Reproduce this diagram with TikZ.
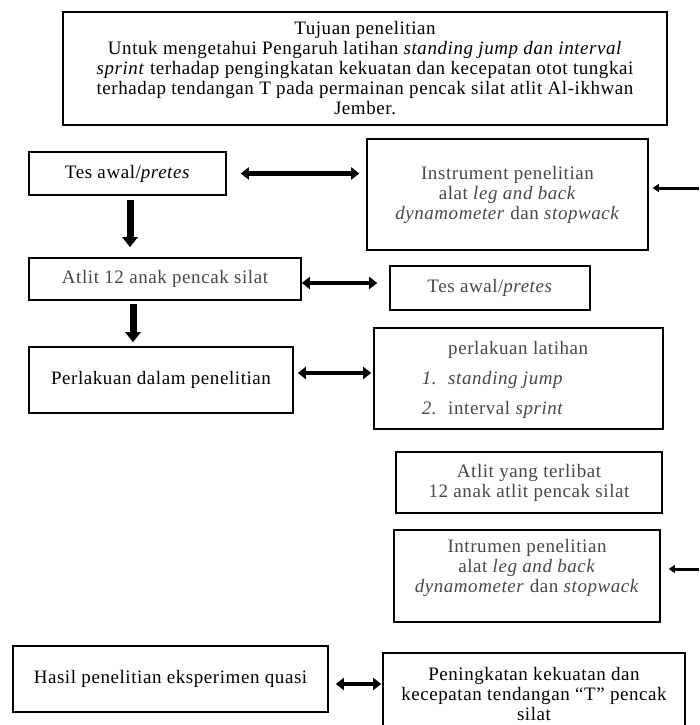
\documentclass[tikz,border=0pt]{standalone}
\usepackage{fontspec}
\setmainfont{Liberation Serif}[LetterSpace=3]
\usetikzlibrary{arrows.meta,calc}

\begin{document}
\begin{tikzpicture}[x=1pt,y=-1pt]
    \tikzstyle{box}=[draw,rectangle,line width=1.6pt,align=center,inner sep=0,font=\fontsize{19}{20}\selectfont]
    \tikzstyle{soft}=[text=black!72]
    \tikzstyle{dbl}=[line width=4.5pt,<->,>={Triangle[width=12pt,length=8pt]}]
    \tikzstyle{drop}=[line width=7pt,->,>={Triangle[width=15pt,length=10pt]}]
    \tikzstyle{feed}=[line width=3pt,->,>={Triangle[width=8pt,length=6pt]}]
    \useasboundingbox (0,0) rectangle (699,725);
    {
        \node[box,minimum width=604,minimum height=113] (tujuan) at (365,68.5) {Tujuan penelitian\\
            Untuk mengetahui Pengaruh latihan \textit{standing jump dan interval}\\
            \textit{sprint} terhadap pengingkatan kekuatan dan kecepatan otot tungkai\\
            terhadap tendangan T pada permainan pencak silat atlit Al-ikhwan\\
            Jember.};

        \node[box,minimum width=197,minimum height=43] (tes1) at (127.5,173.5) {Tes awal/\textit{pretes}};
        \node[box,soft,minimum width=281,minimum height=111] (instr1) at (507.5,194.5) {Instrument penelitian\\
            alat \textit{leg and back}\\
            \textit{dynamometer} dan \textit{stopwack}};
        \node[box,soft,minimum width=272,minimum height=42] (atlit1) at (165,279) {Atlit 12 anak pencak silat};
        \node[box,soft,minimum width=200,minimum height=44] (tes2) at (490,288) {Tes awal/\textit{pretes}};
        \node[box,minimum width=264,minimum height=66] (perl) at (161,380) {Perlakuan dalam penelitian};
        \node[box,soft,minimum width=289,minimum height=101] (latihan) at (518.5,378.5) {\renewcommand{\arraystretch}{1.5}%
            \begin{tabular}{@{}l@{\hspace{11pt}}l@{}}
                & perlakuan latihan\\
                \textit{1.} & \textit{standing jump}\\
                \textit{2.} & interval \textit{sprint}
            \end{tabular}\hspace{27pt}};
        \node[box,soft,minimum width=266,minimum height=61] (atlit2) at (529,482.5) {Atlit yang terlibat\\
            12 anak atlit pencak silat};
        \node[box,soft,minimum width=266,minimum height=92] (instr2) at (527,576) {Intrumen penelitian\\
            alat \textit{leg and back}\\
            \textit{dynamometer} dan \textit{stopwack}\\ \mbox{}};
        \node[box,minimum width=315,minimum height=66] (hasil) at (170.5,679) {Hasil penelitian eksperimen quasi};
        \node[box,minimum width=302,minimum height=82] (naik) at (534,694) {Peningkatan kekuatan dan\\
            kecepatan tendangan ``T'' pencak\\
            silat};

        \coordinate (edge1) at (699,188);
        \coordinate (edge2) at (699,569);

        \draw[dbl,shorten <=14pt,shorten >=7pt] (tes1.east) -- (tes1.east -| instr1.west);
        \draw[dbl,shorten >=12pt] ([yshift=-4pt]atlit1.east) -- ([yshift=-4pt]atlit1.east -| tes2.west);
        \draw[dbl,shorten <=4pt,shorten >=2pt] ([yshift=7pt]perl.east) -- ([yshift=7pt]perl.east -| latihan.west);
        \draw[dbl,shorten <=7pt,shorten >=1pt] ([yshift=-5pt]hasil.east) -- ([yshift=-5pt]hasil.east -| naik.west);
        \draw[drop,shorten <=4pt,shorten >=10pt] ([xshift=2.5pt]tes1.south) -- ([xshift=2.5pt]tes1.south |- atlit1.north);
        \draw[drop,shorten <=3pt,shorten >=4pt] ([xshift=-32pt]atlit1.south) -- ([xshift=-32pt]atlit1.south |- perl.north);
        \draw[feed,shorten >=4pt] (edge1) -- (edge1 -| instr1.east);
        \draw[feed,shorten >=8pt] (edge2) -- (edge2 -| instr2.east);
    }
\end{tikzpicture}
\end{document}
